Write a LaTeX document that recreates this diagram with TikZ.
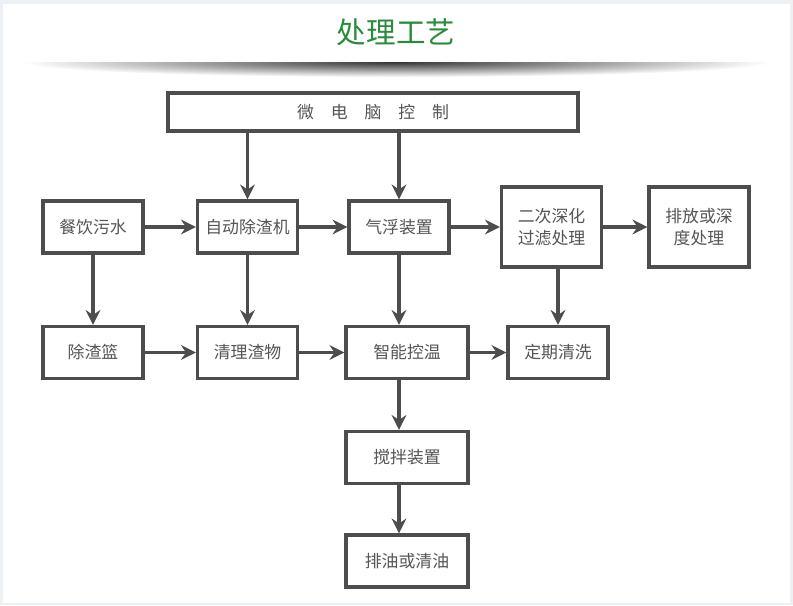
\documentclass[tikz,border=0pt]{standalone}
\usepackage{fontspec}
\setmainfont{Noto Sans CJK SC}
\usepackage{tikz}
\usetikzlibrary{arrows.meta, positioning, calc}
\usepackage{xcolor}
\definecolor{framegray}{RGB}{77,77,77}
\definecolor{textgray}{RGB}{85,85,85}
\definecolor{titlegreen}{RGB}{40,140,60}
\definecolor{edgeblue}{RGB}{236,241,246}

\begin{document}
\begin{tikzpicture}[x=0.025cm, y=-0.025cm,
  box/.style={draw=framegray, line width=2.4pt, fill=white, text=textgray,
    minimum width=2.5cm, minimum height=1.3cm, inner sep=1pt, align=center,
    font=\fontsize{12}{16}\selectfont},
  flow/.style={draw=framegray, line width=2.5pt,
    -{Stealth[length=10.5pt, width=10.5pt, inset=3.5pt]}}]
  \useasboundingbox (0,0) rectangle (793,605);
  % page
  \fill[edgeblue] (0,0) rectangle (793,605);
  \fill[white] (3,4) rectangle (790,603);
  % title with shadow bar
  \node[text=titlegreen, font=\fontsize{21}{24}\selectfont] (title) at (396,32) {处理工艺};
  \shade[inner color=black!80, outer color=white] (396,62) ellipse [x radius=375, y radius=15];
  \fill[white] (15,45) rectangle (780,62);
  % top row
  \node[box, minimum width=10.25cm, minimum height=0.95cm] (ctrl) at (373,112)
    {微\hspace{1em}电\hspace{1em}脑\hspace{1em}控\hspace{1em}制};
  \node[box] (water) at (93,227) {餐饮污水};
  \node[box] (deslag) at (247.5,227) {自动除渣机};
  \node[box] (flot) at (399,227) {气浮装置};
  \node[box, minimum height=2cm] (filter) at (551.5,227) {二次深化\\过滤处理};
  \node[box, minimum height=2cm] (discharge) at (699,227) {排放或深\\度处理};
  % second row
  \node[box] (basket) at (93,352.5) {除渣篮};
  \node[box] (clean) at (247.5,352.5) {清理渣物};
  \node[box, minimum width=3.05cm] (temp) at (407,352.5) {智能控温};
  \node[box] (wash) at (558,352.5) {定期清洗};
  % lower column
  \node[box, minimum width=3.05cm] (stir) at (407,457.5) {搅拌装置};
  \node[box, minimum width=3.05cm] (oil) at (407,561) {排油或清油};
  % connectors
  \draw[flow] (ctrl.south -| deslag) -- (deslag.north);
  \draw[flow] (ctrl.south -| flot) -- (flot.north);
  \draw[flow] (water) -- (deslag);
  \draw[flow] (deslag) -- (flot);
  \draw[flow] (flot) -- (filter);
  \draw[flow] (filter) -- (discharge);
  \draw[flow] (water) -- (basket);
  \draw[flow] (deslag) -- (clean);
  \draw[flow] (flot.south) -- (flot.south |- temp.north);
  \draw[flow] (wash.north |- filter.south) -- (wash.north);
  \draw[flow] (basket) -- (clean);
  \draw[flow] (clean) -- (temp);
  \draw[flow] (temp) -- (wash);
  \draw[flow] (temp.south -| flot) -- (stir.north -| flot);
  \draw[flow] (stir.south -| flot) -- (oil.north -| flot);
\end{tikzpicture}
\end{document}
